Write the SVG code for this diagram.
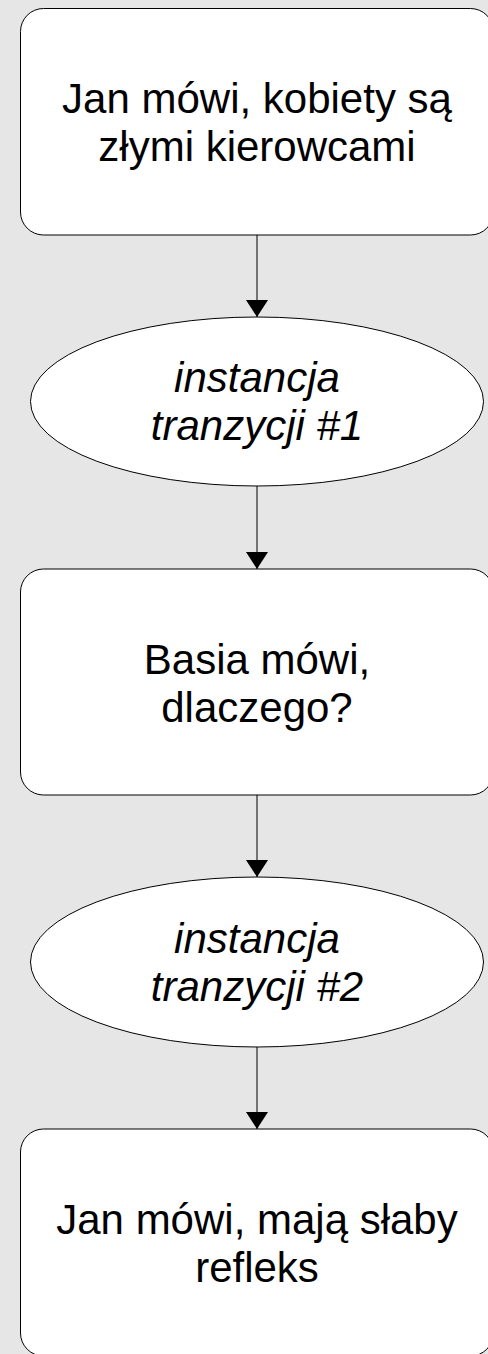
<svg xmlns="http://www.w3.org/2000/svg" width="488" height="1354" viewBox="0 0 488 1354">
<style>
.box{fill:#fff;stroke:#000;stroke-width:1}
.t{font-family:"Liberation Sans",Arial,sans-serif;font-size:42px;fill:#000;text-anchor:middle}
.i{font-style:italic}
.c{stroke:#000;stroke-width:1;fill:none}
</style>
<defs>
<marker id="arr" viewBox="0 0 17 22" refX="17" refY="11" markerWidth="17" markerHeight="22" markerUnits="userSpaceOnUse" orient="auto">
<path d="M0,0 L17,11 L0,22 z" fill="#000"/>
</marker>
</defs>
<rect width="488" height="1354" fill="#e6e6e6"/>
<g id="connectors">
<line class="c" x1="257" y1="235" x2="257" y2="317" marker-end="url(#arr)"/>
<line class="c" x1="257" y1="486" x2="257" y2="569" marker-end="url(#arr)"/>
<line class="c" x1="257" y1="795" x2="257" y2="877" marker-end="url(#arr)"/>
<line class="c" x1="257" y1="1047" x2="257" y2="1129" marker-end="url(#arr)"/>
</g>
<g id="node1">
<rect class="box" x="20.5" y="8.5" width="473" height="226.5" rx="23"/>
<text class="t" x="257" y="113">Jan mówi, kobiety są</text>
<text class="t" x="257" y="161">złymi kierowcami</text>
</g>
<g id="node2">
<ellipse class="box" cx="257" cy="401.5" rx="226.5" ry="84.5"/>
<text class="t i" x="257" y="392">instancja</text>
<text class="t i" x="257" y="440">tranzycji #1</text>
</g>
<g id="node3">
<rect class="box" x="20.5" y="569" width="473" height="226" rx="23"/>
<text class="t" x="257" y="674">Basia mówi,</text>
<text class="t" x="257" y="722">dlaczego?</text>
</g>
<g id="node4">
<ellipse class="box" cx="257" cy="962" rx="226.5" ry="85"/>
<text class="t i" x="257" y="953">instancja</text>
<text class="t i" x="257" y="1001">tranzycji #2</text>
</g>
<g id="node5">
<rect class="box" x="20.5" y="1129" width="473" height="227" rx="23"/>
<text class="t" x="257" y="1234">Jan mówi, mają słaby</text>
<text class="t" x="257" y="1282">refleks</text>
</g>
</svg>
